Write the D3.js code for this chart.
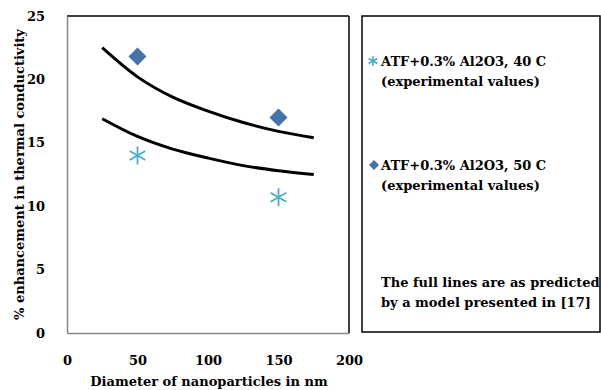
<!DOCTYPE html>
<html>
<head>
<meta charset="utf-8">
<script src="https://cdn.jsdelivr.net/npm/d3@7"></script>
<style>
body { margin: 0; background: #fff; }
svg text { font-family: 'DejaVu Serif', serif; font-weight: bold; }
</style>
</head>
<body>
<div id="chart"></div>
<script>
// measured points
var expX = [50, 150];
var exp40 = [14.0, 10.7];
var exp50 = [21.8, 17.0];

// model curves (full lines)
var modelX = [25, 50, 75, 100, 125, 150, 175];
var model40 = [16.9, 15.5, 14.5, 13.8, 13.2, 12.8, 12.5];
var model50 = [22.5, 20.2, 18.6, 17.5, 16.6, 15.9, 15.4];

var xTicks = [0, 50, 100, 150, 200];
var yTicks = [0, 5, 10, 15, 20, 25];

var legendLabels = [
    ["ATF+0.3% Al2O3, 40 C", "(experimental values)"],
    ["ATF+0.3% Al2O3, 50 C", "(experimental values)"]
];
var noteLines = ["The full lines are as predicted", "by a model presented in [17]"];

var blue = "#4572a7", teal = "#4bacc6";

var width = 601, height = 390;
var margin = {top: 16, left: 67, right: 252, bottom: 57};

var svg = d3.select("#chart").append("svg")
    .attr("width", width)
    .attr("height", height);

var x = d3.scaleLinear().domain([0, 200]).range([margin.left, width - margin.right]);
var y = d3.scaleLinear().domain([0, 25]).range([height - margin.bottom, margin.top]);

// plot area border: top/right black, axes grey
svg.append("line")
    .attr("x1", x(0)).attr("x2", x(200)).attr("y1", y(25)).attr("y2", y(25))
    .attr("stroke", "#000").attr("stroke-width", 1.5);
svg.append("line")
    .attr("x1", x(200)).attr("x2", x(200)).attr("y1", y(25)).attr("y2", y(0))
    .attr("stroke", "#000").attr("stroke-width", 1.5);

var xAxis = svg.append("g")
    .attr("transform", "translate(0," + y(0) + ")")
    .call(d3.axisBottom(x).tickValues(xTicks).tickSize(0).tickPadding(23));
var yAxis = svg.append("g")
    .attr("transform", "translate(" + x(0) + ",0)")
    .call(d3.axisLeft(y).tickValues(yTicks).tickSize(0).tickPadding(22));

[xAxis, yAxis].forEach(function(g) {
    g.attr("font-family", null).attr("font-size", null);
    g.select(".domain").attr("stroke", "#888").attr("stroke-width", 1.5);
    g.selectAll("text").attr("font-size", 13).attr("fill", "#000");
});

svg.append("text")
    .attr("x", (x(0) + x(200)) / 2 + 1)
    .attr("y", 386)
    .attr("text-anchor", "middle")
    .attr("font-size", 13)
    .text("Diameter of nanoparticles in nm");

svg.append("text")
    .attr("transform", "translate(24," + ((y(0) + y(25)) / 2) + ") rotate(-90)")
    .attr("text-anchor", "middle")
    .attr("font-size", 13)
    .text("% enhancement in thermal conductivity");

// model lines
var line = d3.line()
    .x(function(d) { return x(d[0]); })
    .y(function(d) { return y(d[1]); })
    .curve(d3.curveCatmullRom);

[model50, model40].forEach(function(vals) {
    svg.append("path")
        .datum(modelX.map(function(v, i) { return [v, vals[i]]; }))
        .attr("fill", "none")
        .attr("stroke", "#000")
        .attr("stroke-width", 3)
        .attr("d", line);
});

function diamond(g, cx, cy, r) {
    g.append("path")
        .attr("d", "M" + cx + "," + (cy - r) + "L" + (cx + r) + "," + cy + "L" + cx + "," + (cy + r) + "L" + (cx - r) + "," + cy + "Z")
        .attr("fill", blue);
}
function asterisk(g, cx, cy, r, sw) {
    var p = "";
    [90, 30, -30].forEach(function(a) {
        var dx = r * Math.cos(a * Math.PI / 180), dy = r * Math.sin(a * Math.PI / 180);
        p += "M" + (cx - dx) + "," + (cy - dy) + "L" + (cx + dx) + "," + (cy + dy);
    });
    g.append("path").attr("d", p).attr("stroke", teal).attr("stroke-width", sw).attr("fill", "none");
}

expX.forEach(function(v, i) {
    diamond(svg, x(v), y(exp50[i]), 9);
    asterisk(svg, x(v), y(exp40[i]), 9, 1.8);
});

// legend box
svg.append("rect")
    .attr("x", 362).attr("y", 16)
    .attr("width", 238).attr("height", 316)
    .attr("fill", "none").attr("stroke", "#000").attr("stroke-width", 1.5);

var legendY = [66, 170];
legendLabels.forEach(function(lines, i) {
    if (i == 0) asterisk(svg, 373, legendY[i] - 5, 5, 1.6);
    else diamond(svg, 374, legendY[i] - 5, 5);
    lines.forEach(function(t, j) {
        svg.append("text")
            .attr("x", 381)
            .attr("y", legendY[i] + j * 20)
            .attr("font-size", 13)
            .text(t);
    });
});

noteLines.forEach(function(t, j) {
    svg.append("text")
        .attr("x", 381)
        .attr("y", 287 + j * 20)
        .attr("font-size", 13)
        .text(t);
});
</script>
</body>
</html>
